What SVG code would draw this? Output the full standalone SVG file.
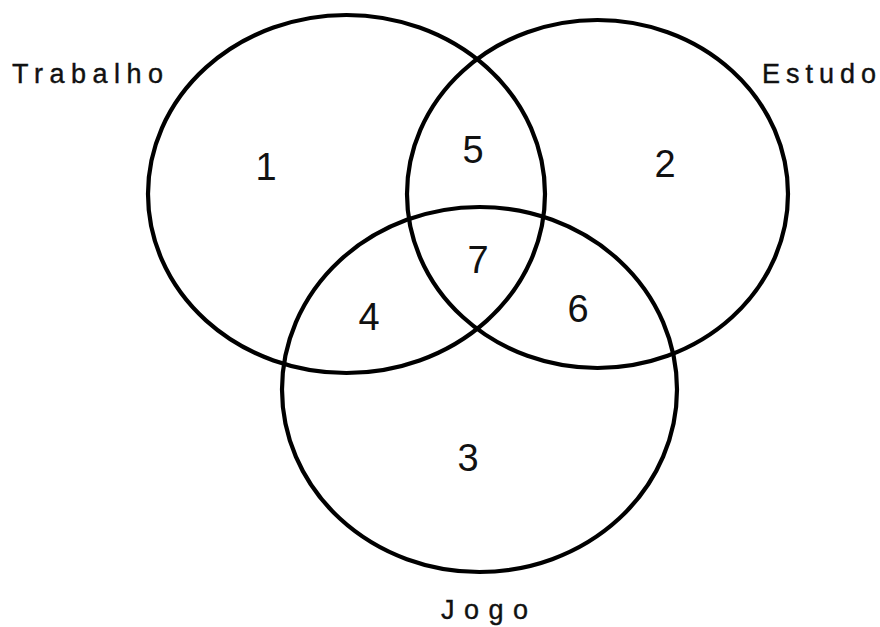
<svg xmlns="http://www.w3.org/2000/svg" width="880" height="627" viewBox="0 0 880 627">
<style>
.c{fill:none;stroke:#000;stroke-width:4.2}
.n{font-family:"Liberation Sans",Arial,sans-serif;font-size:38px;text-anchor:middle;fill:#111}
.l{font-family:"Liberation Sans",Arial,sans-serif;font-size:27px;letter-spacing:6.5px;fill:#111;stroke:#111;stroke-width:0.4}
.z{letter-spacing:0}
</style>
<rect width="880" height="627" fill="#fff"/>
<g id="trabalho"><ellipse class="c" cx="346.5" cy="194" rx="198.5" ry="179"/><text class="l" x="12" y="83">Trabalh<tspan class="z">o</tspan></text></g>
<g id="estudo"><ellipse class="c" cx="597.5" cy="194" rx="190.5" ry="174"/><text class="l" x="762" y="83" style="letter-spacing:6px">Estud<tspan class="z">o</tspan></text></g>
<g id="jogo"><ellipse class="c" cx="479.5" cy="389.5" rx="197.5" ry="182.5"/><text class="l" x="441" y="619" style="letter-spacing:9.5px">Jog<tspan class="z">o</tspan></text></g>
<g id="regions">
<text class="n" x="266" y="180">1</text>
<text class="n" x="665" y="177">2</text>
<text class="n" x="468" y="471">3</text>
<text class="n" x="369" y="330">4</text>
<text class="n" x="473" y="163">5</text>
<text class="n" x="578" y="322">6</text>
<text class="n" x="478" y="273">7</text>
</g>
</svg>
